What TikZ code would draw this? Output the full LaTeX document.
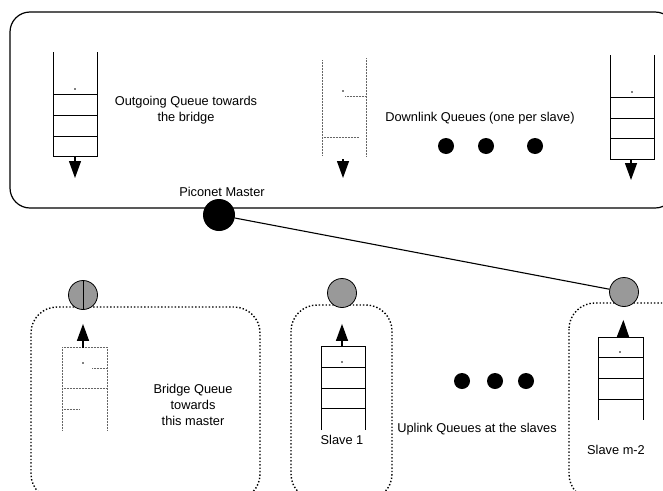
\documentclass[tikz,border=0pt]{standalone}
\usepackage{fontspec}
\setmainfont{Liberation Sans}
\usetikzlibrary{arrows.meta}
\begin{document}
\begin{tikzpicture}[x=1pt,y=-1pt,
  lbl/.style={font=\fontsize{12.8}{16}\selectfont, align=center, inner sep=0pt},
  qline/.style={line width=1pt},
  qdot/.style={densely dotted, line width=0.5pt, black!60},
  arr/.style={-{Triangle[length=17pt,width=12pt]}, line width=1.3pt},
  bigdot/.style={circle, fill=black, minimum size=16pt, inner sep=0pt},
  slavec/.style={circle, draw, fill=black!40, line width=0.8pt, minimum size=29pt, inner sep=0pt},
  dotbox/.style={dotted, line width=1.4pt, rounded corners=26pt}]
\useasboundingbox (0,0) rectangle (663,490);
\clip (0,0) rectangle (663,490);
% top box
\draw[line width=1.2pt, rounded corners=20pt] (10,12) rectangle (675,208);
% left top queue
\draw[qline] (53,52) -- (53,156) -- (97,156) -- (97,52);
\foreach \y in {94,115,136} \draw[qline] (53,\y) -- (97,\y);
\fill (75,89) circle (0.8pt);
\coordinate (q1b) at (75,156);
\coordinate (q1e) at (75,178);
\draw[arr] (q1b) -- (q1e);
\node[lbl] (outtxt) at (186,110) {Outgoing Queue towards\\the bridge};
% middle dotted queue
\draw[qdot] (322,60) -- (322,156);
\draw[qdot] (366,58) -- (366,156);
\draw[qdot] (345,96) -- (366,96);
\draw[qdot] (322,137) -- (359,137);
\fill (343,91) circle (0.8pt);
\coordinate (q2b) at (343,159);
\coordinate (q2e) at (343,178);
\draw[arr] (q2b) -- (q2e);
\node[lbl] (downtxt) at (480,118) {Downlink Queues (one per slave)};
\node[bigdot] (d1) at (446,146) {};
\node[bigdot] (d2) at (486,146) {};
\node[bigdot] (d3) at (535,146) {};
% right top queue
\draw[qline] (610,55) -- (610,159) -- (654,159) -- (654,55);
\foreach \y in {97,118,138} \draw[qline] (610,\y) -- (654,\y);
\fill (632,92) circle (0.8pt);
\coordinate (q3b) at (631,159);
\coordinate (q3e) at (631,180);
\draw[arr] (q3b) -- (q3e);
% master
\node[lbl] (mtxt) at (222,192) {Piconet Master};
\node[circle, fill=black, minimum size=32pt, inner sep=0pt] (master) at (219,215) {};
% bottom boxes
\draw[dotbox] (31,307) rectangle (260,500);
\draw[dotbox] (291,305) rectangle (392,500);
\draw[dotbox] (569,303) rectangle (700,500);
% bridge
\node[slavec] (bridge) at (83,295) {};
\draw[line width=0.6pt] (bridge.north) -- (bridge.south);
\draw[qdot] (62,347) -- (62,430);
\draw[qdot] (107,347) -- (107,430);
\draw[qdot] (62,347) -- (107,347);
\draw[qdot] (92,368) -- (107,368);
\draw[qdot] (62,388) -- (107,388);
\draw[qdot] (62,409) -- (80,409);
\fill (83,363) circle (0.8pt);
\coordinate (bq) at (83,348);
\draw[arr, shorten >=14pt] (bq) -- (bridge);
\node[lbl, align=center] (btxt) at (193,405) {Bridge Queue\\towards\\this master};
% slave 1
\node[slavec] (s1) at (342,293) {};
\draw[qline] (321,430) -- (321,346) -- (365,346) -- (365,430);
\foreach \y in {367,388,408} \draw[qline] (321,\y) -- (365,\y);
\fill (342,362) circle (0.8pt);
\coordinate (s1q) at (342,346);
\draw[arr, shorten >=16pt] (s1q) -- (s1);
\node[lbl] (s1txt) at (342,440) {Slave 1};
% slave m-2
\node[slavec] (s2) at (624,292) {};
\draw[qline] (598,420) -- (598,337) -- (643,337) -- (643,420);
\foreach \y in {357,378,399} \draw[qline] (598,\y) -- (643,\y);
\fill (620,352) circle (0.8pt);
\coordinate (s2q) at (623,337);
\draw[arr, shorten >=13pt] (s2q) -- (s2);
\node[lbl] (s2txt) at (616,450) {Slave m-2};
% dots
\node[bigdot] (u1) at (462,381) {};
\node[bigdot] (u2) at (495,381) {};
\node[bigdot] (u3) at (526,381) {};
\node[lbl] (uptxt) at (477,429) {Uplink Queues at the slaves};
% master link
\draw[line width=1.1pt] (master) -- (s2);
\end{tikzpicture}
\end{document}
